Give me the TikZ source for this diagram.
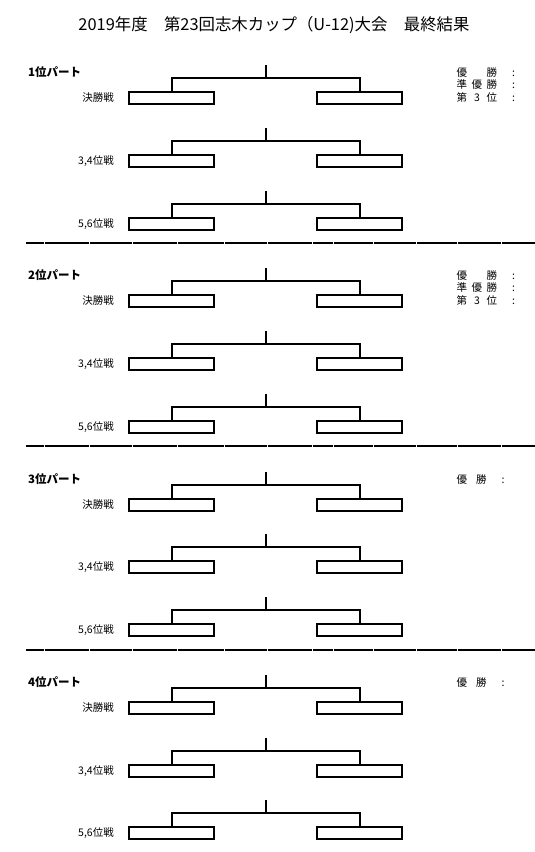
\documentclass[tikz,border=0pt]{standalone}
\usepackage{fontspec}
\setmainfont{Noto Sans CJK JP}
\usepackage{tikz}
\usetikzlibrary{positioning}
\tikzset{slot/.style={draw, line width=2pt, minimum width=85pt, minimum height=12pt, inner sep=0pt},
  tie/.style={line width=2pt},
  rulebar/.style={line width=2pt},
  lbl/.style={font=\fontsize{10.5}{12.7}\selectfont, inner sep=0pt, anchor=east},
  part/.style={font=\fontsize{11.5}{13}\selectfont\bfseries, inner sep=0pt, anchor=west},
  award/.style={font=\fontsize{10.5}{12.7}\selectfont, inner sep=0pt, anchor=base west}}
\newcommand{\partrule}[1]{%
  \foreach \a/\b in {26/43.5,44.5/88.5,89.5/131.5,132.5/176.5,177.5/223.5,224.5/266.5,267.5/311.5,
    312.5/332.5,333.5/372.5,373.5/415.5,416.5/456.5,457.5/500.5,501.5/535}
    {\draw[rulebar] (\a,#1) -- (\b,#1);}}
\newcommand{\awardrows}{\begin{tabular}[t]{@{}c@{\hspace{4.5pt}}c@{\hspace{4.5pt}}c@{\hspace{15pt}}c@{}}
  優 & & 勝 & :\\ 準 & 優 & 勝 & :\\ 第 & 3 & 位 & :\end{tabular}}
\newcommand{\awardrow}{\begin{tabular}[t]{@{}c@{\hspace{4.5pt}}c@{\hspace{4.5pt}}c@{\hspace{15pt}}c@{}}
  優 & & 勝 & :\end{tabular}}

\begin{document}
\begin{tikzpicture}[x=1pt, y=-1pt]
\useasboundingbox (0,0) rectangle (535,852);
\node[font=\fontsize{16.4}{18}\selectfont, inner sep=0pt] (ttl) at (274,25) {2019年度　第23回志木カップ（U-12)大会　最終結果};
% 1位パート
\node[part] (p1) at (28,72) {1位パート};
\node[award] (w1) at (456.5,76) {\awardrows};
\node[lbl] (a1t) at (114,98) {決勝戦};
\node[slot] (a1l) at (171.5,98) {};
\node[slot] (a1r) at (359.5,98) {};
\coordinate (a1m) at (265.5,78);
\coordinate (a1s) at (265.5,65);
\draw[tie] (a1l.north) |- (a1m) -| (a1r.north);
\draw[tie] (a1m) -- (a1s);
\node[lbl] (b1t) at (114,161) {3,4位戦};
\node[slot] (b1l) at (171.5,161) {};
\node[slot] (b1r) at (359.5,161) {};
\coordinate (b1m) at (265.5,141);
\coordinate (b1s) at (265.5,128);
\draw[tie] (b1l.north) |- (b1m) -| (b1r.north);
\draw[tie] (b1m) -- (b1s);
\node[lbl] (c1t) at (114,224) {5,6位戦};
\node[slot] (c1l) at (171.5,224) {};
\node[slot] (c1r) at (359.5,224) {};
\coordinate (c1m) at (265.5,204);
\coordinate (c1s) at (265.5,191);
\draw[tie] (c1l.north) |- (c1m) -| (c1r.north);
\draw[tie] (c1m) -- (c1s);
\partrule{243}
% 2位パート
\node[part] (p2) at (28,275) {2位パート};
\node[award] (w2) at (456.5,279) {\awardrows};
\node[lbl] (a2t) at (114,301) {決勝戦};
\node[slot] (a2l) at (171.5,301) {};
\node[slot] (a2r) at (359.5,301) {};
\coordinate (a2m) at (265.5,281);
\coordinate (a2s) at (265.5,268);
\draw[tie] (a2l.north) |- (a2m) -| (a2r.north);
\draw[tie] (a2m) -- (a2s);
\node[lbl] (b2t) at (114,364) {3,4位戦};
\node[slot] (b2l) at (171.5,364) {};
\node[slot] (b2r) at (359.5,364) {};
\coordinate (b2m) at (265.5,344);
\coordinate (b2s) at (265.5,331);
\draw[tie] (b2l.north) |- (b2m) -| (b2r.north);
\draw[tie] (b2m) -- (b2s);
\node[lbl] (c2t) at (114,427) {5,6位戦};
\node[slot] (c2l) at (171.5,427) {};
\node[slot] (c2r) at (359.5,427) {};
\coordinate (c2m) at (265.5,407);
\coordinate (c2s) at (265.5,394);
\draw[tie] (c2l.north) |- (c2m) -| (c2r.north);
\draw[tie] (c2m) -- (c2s);
\partrule{446}
% 3位パート
\node[part] (p3) at (28,479) {3位パート};
\node[award] (w3) at (456.5,483) {\awardrow};
\node[lbl] (a3t) at (114,505) {決勝戦};
\node[slot] (a3l) at (171.5,505) {};
\node[slot] (a3r) at (359.5,505) {};
\coordinate (a3m) at (265.5,485);
\coordinate (a3s) at (265.5,472);
\draw[tie] (a3l.north) |- (a3m) -| (a3r.north);
\draw[tie] (a3m) -- (a3s);
\node[lbl] (b3t) at (114,567) {3,4位戦};
\node[slot] (b3l) at (171.5,567) {};
\node[slot] (b3r) at (359.5,567) {};
\coordinate (b3m) at (265.5,547);
\coordinate (b3s) at (265.5,534);
\draw[tie] (b3l.north) |- (b3m) -| (b3r.north);
\draw[tie] (b3m) -- (b3s);
\node[lbl] (c3t) at (114,630) {5,6位戦};
\node[slot] (c3l) at (171.5,630) {};
\node[slot] (c3r) at (359.5,630) {};
\coordinate (c3m) at (265.5,610);
\coordinate (c3s) at (265.5,597);
\draw[tie] (c3l.north) |- (c3m) -| (c3r.north);
\draw[tie] (c3m) -- (c3s);
\partrule{650}
% 4位パート
\node[part] (p4) at (28,682) {4位パート};
\node[award] (w4) at (456.5,686) {\awardrow};
\node[lbl] (a4t) at (114,708) {決勝戦};
\node[slot] (a4l) at (171.5,708) {};
\node[slot] (a4r) at (359.5,708) {};
\coordinate (a4m) at (265.5,688);
\coordinate (a4s) at (265.5,675);
\draw[tie] (a4l.north) |- (a4m) -| (a4r.north);
\draw[tie] (a4m) -- (a4s);
\node[lbl] (b4t) at (114,771) {3,4位戦};
\node[slot] (b4l) at (171.5,771) {};
\node[slot] (b4r) at (359.5,771) {};
\coordinate (b4m) at (265.5,751);
\coordinate (b4s) at (265.5,738);
\draw[tie] (b4l.north) |- (b4m) -| (b4r.north);
\draw[tie] (b4m) -- (b4s);
\node[lbl] (c4t) at (114,833) {5,6位戦};
\node[slot] (c4l) at (171.5,833) {};
\node[slot] (c4r) at (359.5,833) {};
\coordinate (c4m) at (265.5,813);
\coordinate (c4s) at (265.5,800);
\draw[tie] (c4l.north) |- (c4m) -| (c4r.north);
\draw[tie] (c4m) -- (c4s);
\end{tikzpicture}
\end{document}
